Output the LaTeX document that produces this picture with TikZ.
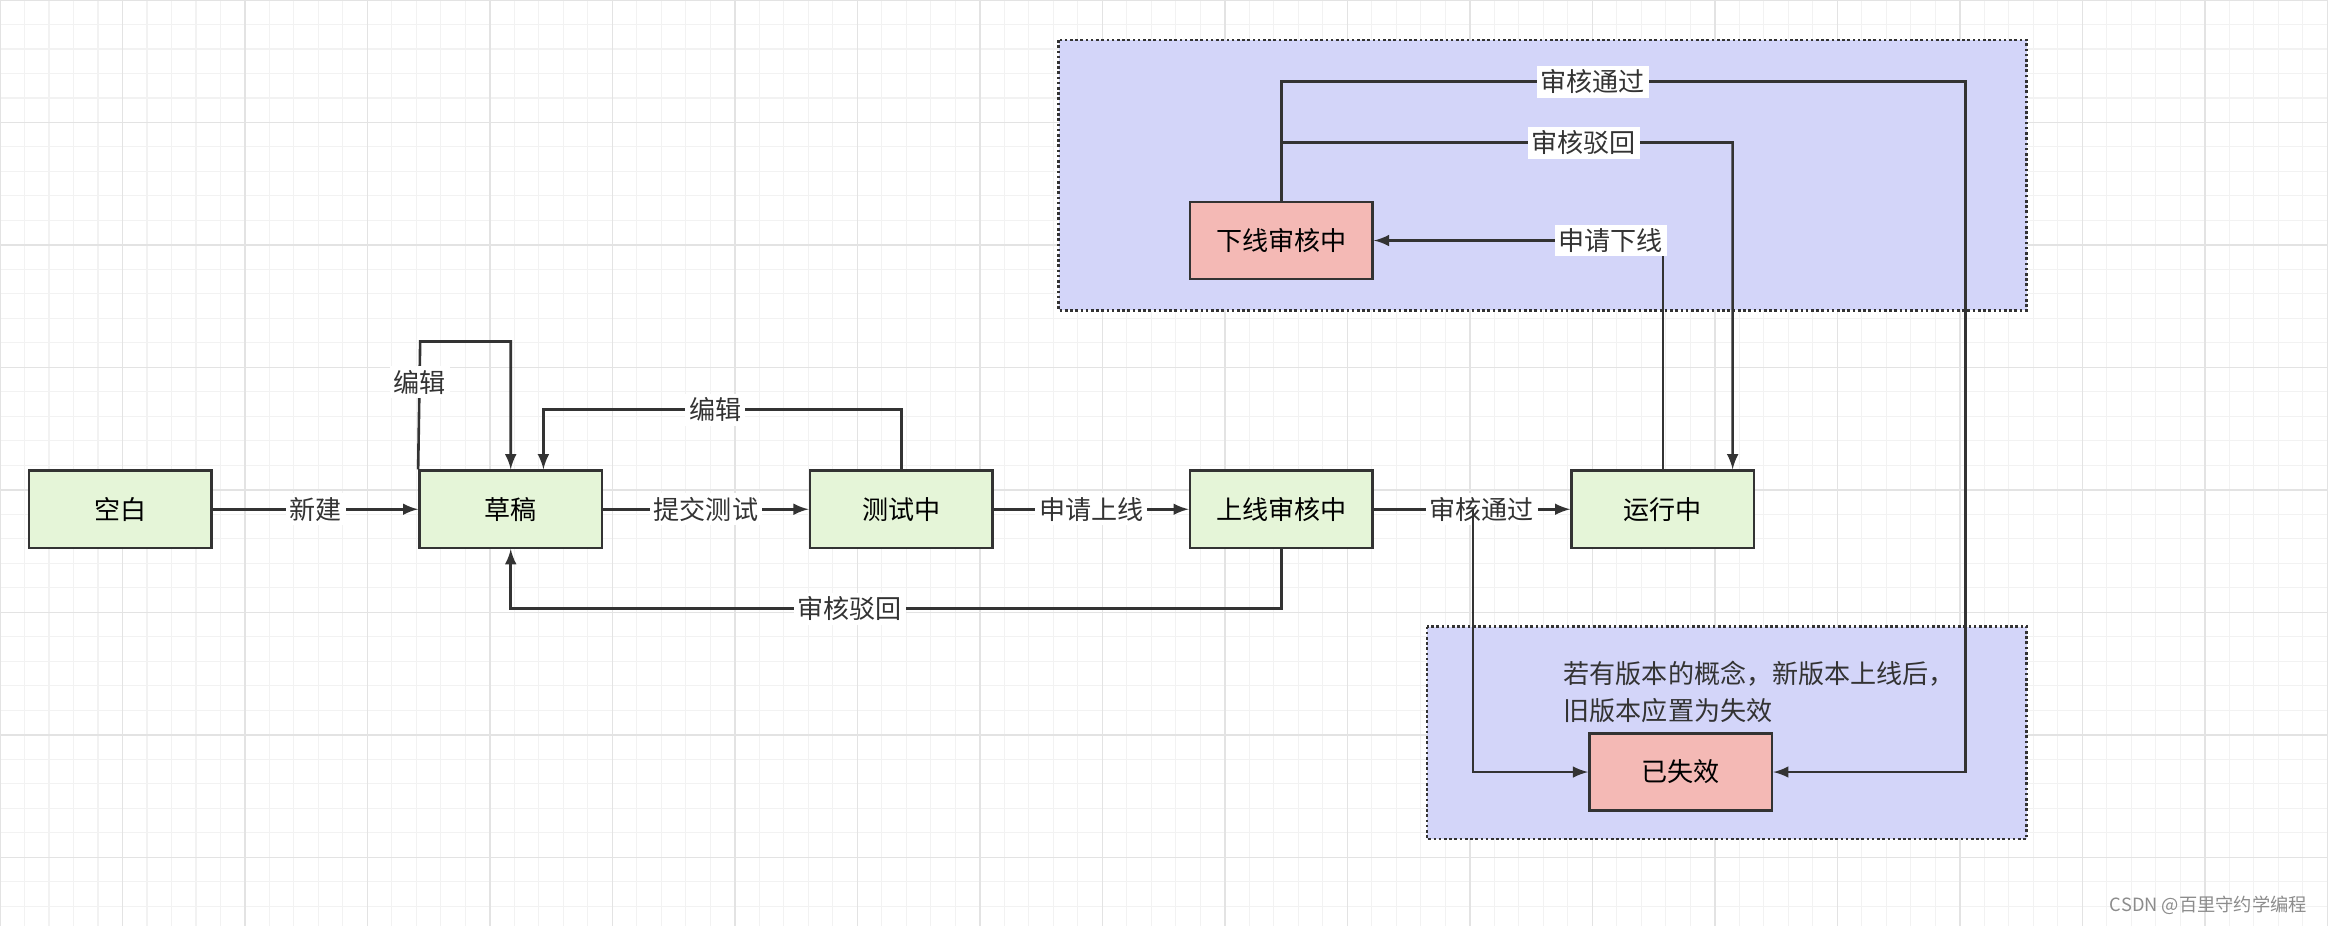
\documentclass[tikz,border=0pt]{standalone}
\usepackage{fontspec}
\setmainfont{Noto Sans CJK SC}
\usepackage{tikz}
\usetikzlibrary{positioning}
\definecolor{boxgreen}{HTML}{E5F5D8}
\definecolor{boxred}{HTML}{F4B9B5}
\definecolor{zoneblue}{HTML}{D3D5F9}
\definecolor{linegray}{HTML}{333333}
\tikzset{
  state/.style={draw=linegray, line width=1pt, minimum width=2.46cm, minimum height=1.04cm, font=\fontsize{10}{12}\selectfont},
  ok/.style={state, fill=boxgreen},
  bad/.style={state, fill=boxred},
  zone/.style={draw=linegray, densely dotted, line width=1pt, fill=zoneblue},
  arr/.style={draw=linegray, line width=1pt, -latex},
  ln/.style={draw=linegray, line width=1pt},
  lbl/.style={fill=white, inner sep=1.5pt, font=\fontsize{10}{12}\selectfont, text=linegray}
}
\begin{document}
\begin{tikzpicture}[x=0.02cm, y=-0.02cm]
\useasboundingbox (0,0) rectangle (1568,624);
\fill[white] (0,0) rectangle (1568,624);
% grid
\foreach \i in {0,...,95} {
  \draw[black!5, line width=0.4pt] (\i*16.5,0) -- (\i*16.5,624);
}
\foreach \j in {0,...,38} {
  \draw[black!5, line width=0.4pt] (0,\j*16.5) -- (1568,\j*16.5);
}
\foreach \i in {0,...,19} {
  \draw[black!11, line width=0.6pt] (\i*82.5,0) -- (\i*82.5,624);
}
\foreach \j in {0,...,7} {
  \draw[black!11, line width=0.6pt] (0,\j*82.5) -- (1568,\j*82.5);
}
% zones
\draw[zone] (713,27) rectangle (1365,209);
\draw[zone] (961,422) rectangle (1365,565);
% states
\node[ok] (kb) at (81,343) {空白};
\node[ok] (cg) at (344,343) {草稿};
\node[ok] (cs) at (607,343) {测试中};
\node[ok] (sh) at (863,343) {上线审核中};
\node[ok] (yx) at (1120,343) {运行中};
\node[bad] (xx) at (863,162) {下线审核中};
\node[bad] (sx) at (1132,520) {已失效};
\node[align=left, anchor=west, font=\fontsize{10}{14}\selectfont, text=linegray] (note) at (1047,466) {若有版本的概念，新版本上线后，\\旧版本应置为失效};
\node[anchor=east, font=\fontsize{7}{8}\selectfont, text=black!45] (mark) at (1560,610) {CSDN @百里守约学编程};
% transitions
\draw[arr] (kb) -- node[lbl]{新建} (cg);
\draw[arr] (cg.north west) -- node[lbl,pos=.68]{编辑} (283,230) -| (cg.north);
\draw[arr] (cs.north) -- (607,276) -| node[lbl,pos=.26]{编辑} ([xshift=0.44cm]cg.north);
\draw[arr] (cg) -- node[lbl]{提交测试} (cs);
\draw[arr] (cs) -- node[lbl]{申请上线} (sh);
\draw[arr] (sh.south) -- (863,410) -| node[lbl,pos=.28]{审核驳回} (cg.south);
\draw[arr] (sh) -- node[lbl,pos=.55]{审核通过} (yx);
\coordinate (fk) at (992,343);
\draw[arr] (fk) |- (sx.west);
\draw[arr] (yx.north) |- node[lbl,pos=.59]{申请下线} (xx.east);
\draw[arr] (xx.north) -- (863,55) -- node[lbl,pos=.455]{审核通过} (1324,55) |- (sx.east);
\coordinate (br) at (863,96);
\draw[arr] (br) -- node[lbl,pos=.67]{审核驳回} (1167,96) -- ([xshift=0.94cm]yx.north);
\end{tikzpicture}
\end{document}
